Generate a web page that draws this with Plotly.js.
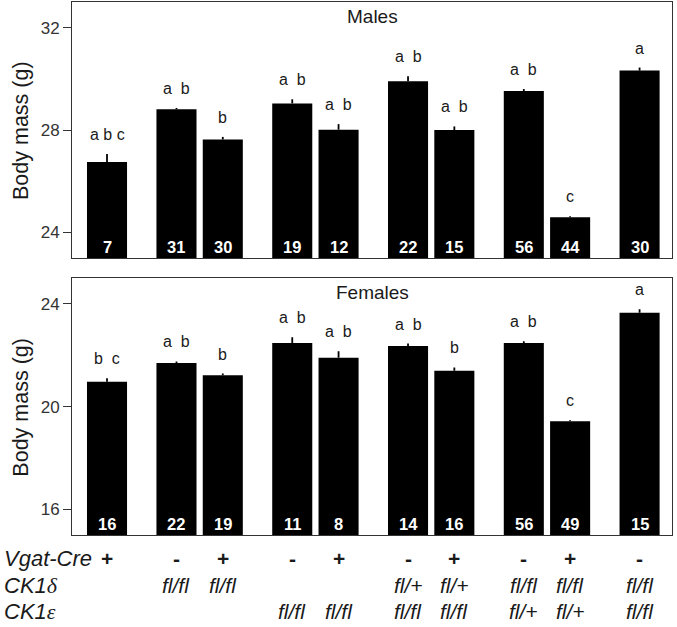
<!DOCTYPE html>
<html>
<head>
<meta charset="utf-8">
<script src="https://cdn.plot.ly/plotly-3.0.1.min.js"></script>
<style>html,body{margin:0;padding:0;background:#fff;}</style>
</head>
<body>
<div id="chart" style="width:677px;height:627px;"></div>
<script>
// ---- data ----
var genotypeGroup = [0, 1, 1, 2, 2, 3, 3, 4, 4, 5];
var vgatCre = ['+', '-', '+', '-', '+', '-', '+', '-', '+', '-'];
var ck1Delta = ['', 'fl/fl', 'fl/fl', '', '', 'fl/+', 'fl/+', 'fl/fl', 'fl/fl', 'fl/fl'];
var ck1Epsilon = ['', '', '', 'fl/fl', 'fl/fl', 'fl/fl', 'fl/fl', 'fl/+', 'fl/+', 'fl/fl'];

var maleMass = [26.75, 28.81, 27.63, 29.04, 28.01, 29.90, 28.00, 29.52, 24.59, 30.32];
var maleSem = [0.31, 0.05, 0.10, 0.16, 0.22, 0.20, 0.14, 0.08, 0.04, 0.12];
var maleN = ['7', '31', '30', '19', '12', '22', '15', '56', '44', '30'];
var maleLetters = ['a b c', 'a\u00a0 b', 'b', 'a\u00a0 b', 'a\u00a0 b', 'a\u00a0 b', 'a\u00a0 b', 'a\u00a0 b', 'c', 'a'];

var femaleMass = [20.97, 21.70, 21.22, 22.48, 21.91, 22.36, 21.40, 22.48, 19.43, 23.66];
var femaleSem = [0.14, 0.06, 0.07, 0.22, 0.25, 0.10, 0.13, 0.07, 0.04, 0.13];
var femaleN = ['16', '22', '19', '11', '8', '14', '16', '56', '49', '15'];
var femaleLetters = ['b\u00a0 c', 'a\u00a0 b', 'b', 'a\u00a0 b', 'a\u00a0 b', 'a\u00a0 b', 'b', 'a\u00a0 b', 'c', 'a'];

var maleTicks = [24, 28, 32];
var femaleTicks = [16, 20, 24];
var rowLabels = ['<i>Vgat-Cre</i>',
  '<i>CK1</i><span style="font-family:Liberation Serif;font-style:italic">\u03b4</span>',
  '<i>CK1</i><span style="font-family:Liberation Serif;font-style:italic">\u03b5</span>'];

// ---- build ----
var xs = genotypeGroup.map(function (g, i) { return i + 0.5 * g; });
var TXT = '#1a1a1a';
var FONT = 'Liberation Sans, Arial, sans-serif';

function barTrace(vals, errs, xa, ya) {
  return {
    type: 'bar', x: xs, y: vals, xaxis: xa, yaxis: ya,
    width: 0.865, marker: {color: '#000', line: {width: 0}},
    error_y: {type: 'data', symmetric: false, array: errs,
      arrayminus: errs.map(function () { return 0; }),
      color: '#000', thickness: 1.8, width: 0},
    hoverinfo: 'none', showlegend: false
  };
}

var data = [barTrace(maleMass, maleSem, 'x', 'y'), barTrace(femaleMass, femaleSem, 'x2', 'y2')];

var ann = [];
function panelAnn(vals, errs, letters, ns, xr, yr, title) {
  xs.forEach(function (x, i) {
    ann.push({x: x, y: vals[i] + errs[i], xref: xr, yref: yr, text: letters[i],
      showarrow: false, yanchor: 'bottom', yshift: 9,
      font: {family: FONT, size: 16, color: TXT}});
    ann.push({x: x, y: 0, xref: xr, yref: yr + ' domain', text: ns[i],
      showarrow: false, yanchor: 'bottom', yshift: 0,
      font: {family: FONT, size: 16.5, color: '#fff', weight: 'bold'}});
  });
  ann.push({x: 0.5, y: 1, xref: xr + ' domain', yref: yr + ' domain', text: title,
    showarrow: false, yanchor: 'top', yshift: -2,
    font: {family: FONT, size: 19, color: TXT}});
  ann.push({x: -0.085, y: 0.5, xref: 'paper', yref: yr + ' domain', text: 'Body mass (g)',
    textangle: -90, showarrow: false, xanchor: 'center', yanchor: 'middle',
    font: {family: FONT, size: 21.5, color: TXT}});
}
panelAnn(maleMass, maleSem, maleLetters, maleN, 'x', 'y', 'Males');
panelAnn(femaleMass, femaleSem, femaleLetters, femaleN, 'x2', 'y2', 'Females');

// genotype table
var rows = [vgatCre, ck1Delta, ck1Epsilon];
var rowY = [-0.045, -0.094, -0.143];
rows.forEach(function (row, r) {
  ann.push({x: -0.117, y: rowY[r], xref: 'paper', yref: 'paper', text: rowLabels[r],
    showarrow: false, xanchor: 'left', yanchor: 'middle',
    font: {family: FONT, size: 22, color: TXT}});
  row.forEach(function (t, i) {
    if (!t) return;
    ann.push({x: xs[i], y: rowY[r], xref: 'x2', yref: 'paper',
      text: r === 0 ? t : '<i>' + t + '</i>',
      showarrow: false, xanchor: 'center', yanchor: 'middle',
      font: {family: FONT, size: r === 0 ? 21 : 21, color: TXT, weight: r === 0 ? 'bold' : 'normal'}});
  });
});

var xCommon = {range: [-0.756, 12.2], showticklabels: false, ticks: '', showgrid: false,
  zeroline: false, showline: true, mirror: true, linecolor: '#333', linewidth: 1, fixedrange: true};
function yCommon(range, ticks, domain, anchor) {
  return {range: range, tickvals: ticks, ticktext: ticks.map(String), domain: domain, anchor: anchor,
    ticks: 'outside', ticklen: 8, tickcolor: '#333', tickwidth: 1, showgrid: false, zeroline: false,
    showline: true, mirror: true, linecolor: '#333', linewidth: 1,
    tickfont: {family: FONT, size: 17, color: '#333'}};
}

var layout = {
  width: 677, height: 627,
  margin: {l: 72, r: 5, t: 2, b: 92},
  paper_bgcolor: '#fff', plot_bgcolor: '#fff',
  showlegend: false,
  xaxis: Object.assign({}, xCommon, {anchor: 'y'}),
  xaxis2: Object.assign({}, xCommon, {anchor: 'y2'}),
  yaxis: yCommon([23, 33], maleTicks, [0.5197, 1], 'x'),
  yaxis2: yCommon([15, 25], femaleTicks, [0, 0.4816], 'x2'),
  annotations: ann
};

Plotly.newPlot('chart', data, layout, {staticPlot: true, displayModeBar: false});
</script>
</body>
</html>
